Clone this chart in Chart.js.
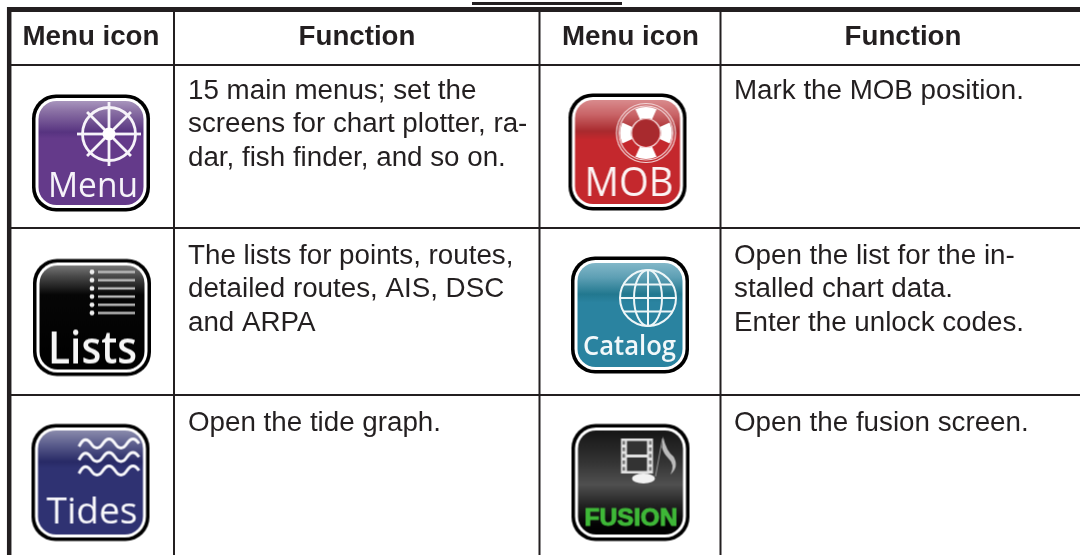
<!DOCTYPE html>
<html>
<head>
<meta charset="utf-8">
<title>Menu icons</title>
<script src="https://cdn.jsdelivr.net/npm/chart.js@4/dist/chart.umd.js"></script>
<style>
  html, body { margin: 0; background: #fff; overflow: hidden; }
  canvas { display: block; }
</style>
</head>
<body>
<canvas id="chart" width="1080" height="555"></canvas>
<script>
// Table contents
const headers = ['Menu icon', 'Function', 'Menu icon', 'Function'];
const headerCenters = [91, 357, 630.5, 903];
const headerBaseline = 45;

const leftCells = [
  ['15 main menus; set the', 'screens for chart plotter, ra-', 'dar, fish finder, and so on.'],
  ['The lists for points, routes,', 'detailed routes, AIS, DSC', 'and ARPA'],
  ['Open the tide graph.']
];
const rightCells = [
  ['Mark the MOB position.'],
  ['Open the list for the in-', 'stalled chart data.', 'Enter the unlock codes.'],
  ['Open the fusion screen.']
];
const leftTextX = 188;
const rightTextX = 734;
const rowBaselines = [99, 264, 431];
const lineHeight = 33.3;

// Rules of the table: [x0, y0, x1, y1, width]
const rules = [
  [472, 3.5, 622, 3.5, 3],
  [7, 9.5, 1080, 9.5, 5],
  [9.2, 7, 9.2, 555, 4.5],
  [174, 12, 174, 555, 2],
  [539.5, 12, 539.5, 555, 2],
  [720.5, 12, 720.5, 555, 2],
  [11, 65, 1080, 65, 2],
  [11, 228, 1080, 228, 2],
  [11, 395, 1080, 395, 2]
];

// Icon centres
const iconNames = ['menu', 'lists', 'tides', 'mob', 'catalog', 'fusion'];
const iconX = [91, 92, 90.5, 627.5, 630, 630.5];
const iconY = [153, 317.5, 482.5, 152, 315, 482.5];

const INK = '#231f20';

function roundRect(ctx, x, y, w, h, r) {
  ctx.beginPath();
  ctx.roundRect(x, y, w, h, r);
}

function fitText(ctx, text, font, x0, x1, baseline, color, extra) {
  // draws the word stretched to the width it has in the icon
  ctx.save();
  ctx.font = font;
  ctx.fillStyle = color;
  ctx.textAlign = 'left';
  ctx.textBaseline = 'alphabetic';
  const w = ctx.measureText(text).width;
  ctx.translate(x0, baseline);
  ctx.scale((x1 - x0) / w, 1);
  ctx.fillText(text, 0, 0);
  if (extra) {
    ctx.strokeStyle = color;
    ctx.lineWidth = extra;
    ctx.strokeText(text, 0, 0);
  }
  ctx.restore();
}

function iconBase(stops) {
  const c = document.createElement('canvas');
  c.width = 124;
  c.height = 124;
  const ctx = c.getContext('2d');
  ctx.translate(62, 62);
  roundRect(ctx, -59, -58.5, 118, 117, 24);
  ctx.fillStyle = '#000';
  ctx.fill();
  roundRect(ctx, -55.5, -55, 111, 110, 21);
  ctx.fillStyle = '#fff';
  ctx.fill();
  roundRect(ctx, -52.5, -52, 105, 104, 18);
  const g = ctx.createLinearGradient(0, -52, 0, 52);
  stops.forEach(s => g.addColorStop(s[0], s[1]));
  ctx.fillStyle = g;
  ctx.fill();
  return { c, ctx };
}

// the icons in the reference are soft, scanned bitmaps
function soften(c) {
  const out = document.createElement('canvas');
  out.width = c.width;
  out.height = c.height;
  const ctx = out.getContext('2d');
  ctx.filter = 'blur(0.5px)';
  ctx.drawImage(c, 0, 0);
  return out;
}

function drawMenu() {
  const { c, ctx } = iconBase([[0, '#a895bd'], [0.1, '#8a70a4'], [0.3, '#573380'], [0.36, '#643a8a'], [1, '#643a8a']]);
  ctx.strokeStyle = '#f6f3f9';
  ctx.fillStyle = '#fff';
  ctx.lineWidth = 2.8;
  ctx.beginPath();
  ctx.arc(18, -19, 26.5, 0, Math.PI * 2);
  ctx.stroke();
  for (let i = 0; i < 8; i++) {
    const a = i * Math.PI / 4;
    const r = i % 2 ? 31 : 32;
    ctx.beginPath();
    ctx.moveTo(18, -19);
    ctx.lineTo(18 + Math.cos(a) * r, -19 + Math.sin(a) * r);
    ctx.stroke();
  }
  ctx.beginPath();
  ctx.arc(18, -19, 6.5, 0, Math.PI * 2);
  ctx.fill();
  fitText(ctx, 'Menu', '500 35px "Open Sans"', -43, 47, 44, '#f6f3f9');
  return soften(c);
}

function drawMob() {
  const { c, ctx } = iconBase([[0, '#d98b8d'], [0.14, '#c96467'], [0.3, '#a92a2e'], [0.38, '#c4282d'], [1, '#c4282d']]);
  const cx = 18.5, cy = -19;
  ctx.strokeStyle = '#f1d6d7';
  ctx.lineWidth = 1.2;
  [29.5, 27, 14.5].forEach(r => {
    ctx.beginPath();
    ctx.arc(cx, cy, r, 0, Math.PI * 2);
    ctx.stroke();
  });
  ctx.fillStyle = '#a82a2e';
  ctx.beginPath();
  ctx.arc(cx, cy, 13, 0, Math.PI * 2);
  ctx.fill();
  ctx.strokeStyle = '#fff';
  ctx.lineWidth = 11;
  for (let i = 0; i < 4; i++) {
    const a = i * Math.PI / 2;
    ctx.beginPath();
    ctx.arc(cx, cy, 20.5, a - 0.42, a + 0.42);
    ctx.stroke();
  }
  fitText(ctx, 'MOB', '500 41px "Open Sans"', -43, 46, 44, '#fbf3f3');
  return soften(c);
}

function drawLists() {
  const { c, ctx } = iconBase([[0, '#777'], [0.1, '#4a4a4a'], [0.28, '#060606'], [1, '#000']]);
  for (let i = 0; i < 6; i++) {
    const y = -45.5 + i * 8.2;
    ctx.fillStyle = '#eee';
    ctx.beginPath();
    ctx.arc(0, y, 2.4, 0, Math.PI * 2);
    ctx.fill();
    ctx.fillStyle = '#bbb';
    ctx.fillRect(6, y - 1.2, 37, 2.4);
  }
  fitText(ctx, 'Lists', '600 45px "Open Sans"', -44, 45, 45.5, '#f6f6f6');
  return soften(c);
}

function drawCatalog() {
  const { c, ctx } = iconBase([[0, '#82b7c8'], [0.14, '#5d9fb4'], [0.3, '#22788f'], [0.38, '#2a83a0'], [1, '#2a83a0']]);
  const cx = 18, cy = -17, r = 28;
  ctx.strokeStyle = '#eef6f8';
  ctx.lineWidth = 2;
  ctx.beginPath();
  ctx.arc(cx, cy, r, 0, Math.PI * 2);
  ctx.stroke();
  ctx.beginPath();
  ctx.ellipse(cx, cy, 14, r, 0, 0, Math.PI * 2);
  ctx.stroke();
  ctx.beginPath();
  ctx.moveTo(cx, cy - r);
  ctx.lineTo(cx, cy + r);
  ctx.moveTo(cx - r, cy);
  ctx.lineTo(cx + r, cy);
  ctx.moveTo(cx - 24.5, cy - 13.5);
  ctx.lineTo(cx + 24.5, cy - 13.5);
  ctx.moveTo(cx - 24.5, cy + 13.5);
  ctx.lineTo(cx + 24.5, cy + 13.5);
  ctx.stroke();
  fitText(ctx, 'Catalog', '600 27px "Open Sans"', -47, 46, 40, '#f2f8fa');
  return soften(c);
}

function drawTides() {
  const { c, ctx } = iconBase([[0, '#8a8bac'], [0.13, '#5d5f8e'], [0.3, '#282a66'], [0.36, '#2f3272'], [1, '#2f3272']]);
  ctx.strokeStyle = '#f8f8fb';
  ctx.lineWidth = 3;
  [-39, -25.5, -12].forEach(y => {
    ctx.beginPath();
    ctx.moveTo(-11.5, y + 3);
    for (let i = 0; i < 5; i++) {
      const x0 = -11.5 + i * 12;
      const dy = i % 2 ? 9 : -9;
      ctx.quadraticCurveTo(x0 + 6, y + dy, x0 + 12, y);
    }
    ctx.stroke();
  });
  fitText(ctx, 'Tides', '500 37px "Open Sans"', -44, 47, 41, '#f8f8fb');
  return soften(c);
}

function drawFusion() {
  const { c, ctx } = iconBase([[0, '#161616'], [0.3, '#333'], [0.52, '#505050'], [0.72, '#222'], [0.9, '#050505'], [1, '#000']]);
  // film strip
  ctx.fillStyle = '#e2e2e2';
  ctx.fillRect(-9.5, -44, 32, 35);
  ctx.fillStyle = '#333';
  ctx.fillRect(-3.5, -41.5, 20, 13.5);
  ctx.fillRect(-3.5, -25, 20, 13.5);
  ctx.fillStyle = '#777';
  for (let i = 0; i < 5; i++) {
    ctx.fillRect(-8, -41.5 + i * 6.5, 2.6, 3.6);
    ctx.fillRect(18.5, -41.5 + i * 6.5, 2.6, 3.6);
  }
  // note
  ctx.fillStyle = '#f2f2f2';
  ctx.beginPath();
  ctx.ellipse(13, -4, 11.5, 5, 0, 0, Math.PI * 2);
  ctx.fill();
  ctx.strokeStyle = '#999';
  ctx.lineWidth = 1;
  ctx.beginPath();
  ctx.moveTo(25, -6);
  ctx.lineTo(32, -44);
  ctx.stroke();
  ctx.fillStyle = '#bbb';
  ctx.beginPath();
  ctx.moveTo(32.5, -46);
  ctx.quadraticCurveTo(36, -31, 43, -26);
  ctx.quadraticCurveTo(49, -16, 40, -8);
  ctx.quadraticCurveTo(45, -18, 38, -24);
  ctx.quadraticCurveTo(33, -29, 31.5, -35);
  ctx.closePath();
  ctx.fill();
  fitText(ctx, 'FUSION', '900 24px "Liberation Sans"', -46, 47, 43, '#3fb838', 1);
  return soften(c);
}

const iconDrawers = {
  menu: drawMenu, lists: drawLists, tides: drawTides,
  mob: drawMob, catalog: drawCatalog, fusion: drawFusion
};

// Writes the header and cell text through the scales
const tableText = {
  id: 'tableText',
  afterDatasetsDraw(chart) {
    const { ctx, scales: { x, y } } = chart;
    ctx.save();
    ctx.fillStyle = INK;
    ctx.textBaseline = 'alphabetic';

    ctx.font = 'bold 27.7px "Liberation Sans"';
    ctx.textAlign = 'center';
    headers.forEach((h, i) => {
      ctx.fillText(h, x.getPixelForValue(headerCenters[i]), y.getPixelForValue(headerBaseline));
    });

    ctx.font = '27.75px "Liberation Sans"';
    ctx.textAlign = 'left';
    const writeCells = (cells, textX) => {
      cells.forEach((lines, row) => {
        lines.forEach((line, n) => {
          const base = rowBaselines[row] + n * lineHeight;
          ctx.fillText(line, x.getPixelForValue(textX), y.getPixelForValue(base));
        });
      });
    };
    writeCells(leftCells, leftTextX);
    writeCells(rightCells, rightTextX);
    ctx.restore();
  }
};

const ruleDatasets = rules.map(r => ({
  type: 'line',
  data: [{ x: r[0], y: r[1] }, { x: r[2], y: r[3] }],
  borderColor: INK,
  borderWidth: r[4],
  pointRadius: 0,
  borderCapStyle: 'butt',
  fill: false
}));

new Chart(document.getElementById('chart').getContext('2d'), {
  type: 'scatter',
  data: {
    datasets: [
      ...ruleDatasets,
      {
        type: 'scatter',
        data: iconNames.map((n, i) => ({ x: iconX[i], y: iconY[i] })),
        pointStyle: iconNames.map(n => iconDrawers[n]()),
        pointRadius: 10,
        showLine: false
      }
    ]
  },
  options: {
    responsive: false,
    animation: false,
    events: [],
    layout: { padding: 0, autoPadding: false },
    plugins: { legend: { display: false }, tooltip: { enabled: false } },
    scales: {
      x: { type: 'linear', display: false, min: 0, max: 1080 },
      y: { type: 'linear', display: false, min: 0, max: 555, reverse: true }
    }
  },
  plugins: [tableText]
});
</script>
</body>
</html>
